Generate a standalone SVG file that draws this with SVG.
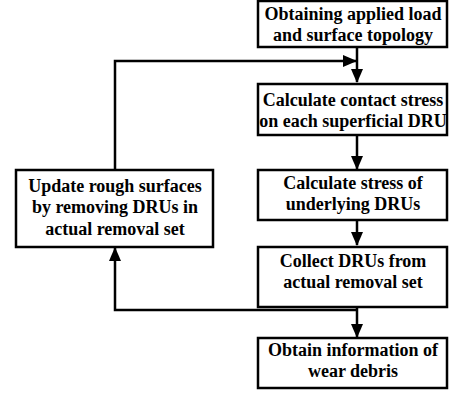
<svg xmlns="http://www.w3.org/2000/svg" width="450" height="395" viewBox="0 0 450 395">
<style>
.box{fill:#fff;stroke:#000;stroke-width:2.5}
.t{font-family:"Liberation Serif",serif;font-weight:bold;font-size:18px;text-anchor:middle;fill:#000}
.c{fill:none;stroke:#000;stroke-width:2.5}
</style>
<defs>
<marker id="ah" markerWidth="14" markerHeight="12" refX="13" refY="6" orient="auto" markerUnits="userSpaceOnUse">
<path d="M0,0 L14,6 L0,12 Z" fill="#000"/>
</marker>
</defs>
<g id="connectors">
<path class="c" d="M357,47 V82" marker-end="url(#ah)"/>
<path class="c" d="M115,170 V61 H356" marker-end="url(#ah)"/>
<path class="c" d="M357,135 V169" marker-end="url(#ah)"/>
<path class="c" d="M357,220 V245" marker-end="url(#ah)"/>
<path class="c" d="M357,307 V337" marker-end="url(#ah)"/>
<path class="c" d="M357,310 H115 V248" marker-end="url(#ah)"/>
</g>
<g id="n1"><rect class="box" x="258" y="1" width="189" height="46"/>
<text class="t" x="353" y="20">Obtaining applied load</text><text class="t" x="353" y="41">and surface topology</text></g>
<g id="n2"><rect class="box" x="258" y="84" width="189" height="51"/>
<text class="t" x="353" y="106">Calculate contact stress</text><text class="t" x="353" y="127">on each superficial DRU</text></g>
<g id="n3"><rect class="box" x="258" y="170" width="189" height="50"/>
<text class="t" x="353" y="189">Calculate stress of</text><text class="t" x="353" y="210">underlying DRUs</text></g>
<g id="n4"><rect class="box" x="258" y="247" width="189" height="60"/>
<text class="t" x="353" y="267">Collect DRUs from</text><text class="t" x="353" y="288">actual removal set</text></g>
<g id="n5"><rect class="box" x="258" y="338" width="189" height="50"/>
<text class="t" x="353" y="356">Obtain information of</text><text class="t" x="353" y="377">wear debris</text></g>
<g id="n6"><rect class="box" x="16" y="170" width="197" height="77"/>
<text class="t" x="115" y="192">Update rough surfaces</text><text class="t" x="115" y="213">by removing DRUs in</text><text class="t" x="115" y="235">actual removal set</text></g>
</svg>
